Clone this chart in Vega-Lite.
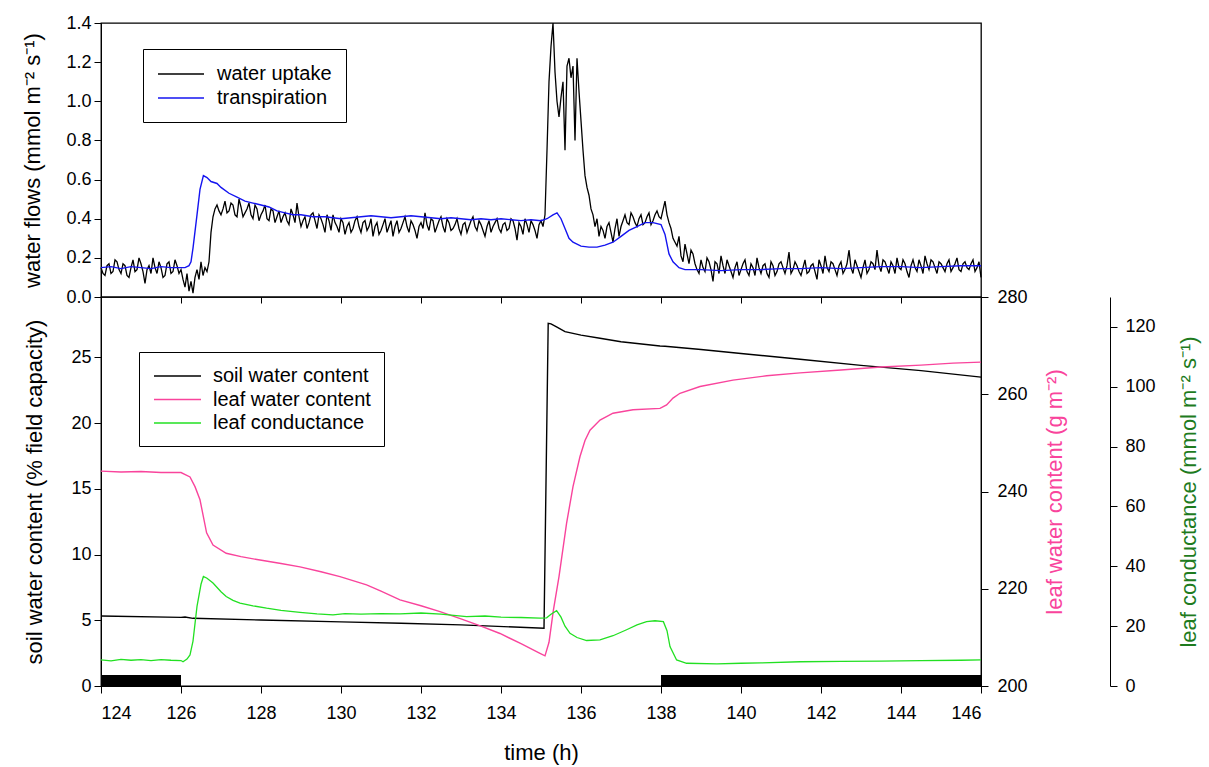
{
  "$schema": "https://vega.github.io/schema/vega-lite/v6.json",
  "padding": {"left": 21, "top": 13, "right": 5, "bottom": 2},
  "config": {
    "font": "Liberation Sans",
    "view": {"stroke": "black", "strokeWidth": 1.3},
    "axis": {"domainColor": "black", "tickColor": "black", "labelColor": "black", "titleColor": "black", "labelFontSize": 18, "titleFontSize": 22, "titleFontWeight": "normal", "tickSize": 7, "grid": false, "labelOverlap": false, "labelFont": "Liberation Sans", "titleFont": "Liberation Sans"},
    "legend": {"labelFont": "Liberation Sans", "labelFontSize": 20, "labelColor": "black"}
  },
  "datasets": {
    "uptake": [
      {"t":124.0,"v":0.15},{"t":124.1,"v":0.11},{"t":124.2,"v":0.17},{"t":124.3,"v":0.13},{"t":124.4,"v":0.18},{"t":124.5,"v":0.12},{"t":124.6,"v":0.16},{"t":124.7,"v":0.10},{"t":124.8,"v":0.19},{"t":124.9,"v":0.14},
      {"t":125.0,"v":0.17},{"t":125.1,"v":0.07},{"t":125.2,"v":0.16},{"t":125.3,"v":0.20},{"t":125.4,"v":0.12},{"t":125.5,"v":0.15},{"t":125.6,"v":0.11},{"t":125.7,"v":0.18},{"t":125.8,"v":0.13},{"t":125.9,"v":0.16},
      {"t":124.05,"v":0.12},{"t":124.15,"v":0.16},{"t":124.25,"v":0.12},{"t":124.35,"v":0.19},{"t":124.45,"v":0.14},{"t":124.55,"v":0.17},{"t":124.65,"v":0.11},{"t":124.75,"v":0.15},{"t":124.85,"v":0.13},{"t":124.95,"v":0.20},
      {"t":125.05,"v":0.13},{"t":125.15,"v":0.14},{"t":125.25,"v":0.12},{"t":125.35,"v":0.15},{"t":125.45,"v":0.18},{"t":125.55,"v":0.10},{"t":125.65,"v":0.17},{"t":125.75,"v":0.12},{"t":125.85,"v":0.19},{"t":125.95,"v":0.12},
      {"t":126.0,"v":0.14},{"t":126.05,"v":0.09},{"t":126.1,"v":0.05},{"t":126.15,"v":0.12},{"t":126.2,"v":0.03},{"t":126.25,"v":0.08},{"t":126.3,"v":0.02},{"t":126.35,"v":0.10},{"t":126.4,"v":0.14},{"t":126.45,"v":0.09},
      {"t":126.5,"v":0.18},{"t":126.55,"v":0.11},{"t":126.6,"v":0.15},{"t":126.65,"v":0.13},{"t":126.7,"v":0.18},{"t":126.75,"v":0.33},{"t":126.8,"v":0.41},{"t":126.85,"v":0.45},{"t":126.9,"v":0.47},{"t":126.95,"v":0.44},{"t":127.0,"v":0.42},
      {"t":127.1,"v":0.49},{"t":127.2,"v":0.44},{"t":127.3,"v":0.47},{"t":127.4,"v":0.41},{"t":127.5,"v":0.46},{"t":127.6,"v":0.43},{"t":127.7,"v":0.48},{"t":127.8,"v":0.40},{"t":127.9,"v":0.45},{"t":128.0,"v":0.42},
      {"t":128.1,"v":0.47},{"t":128.2,"v":0.39},{"t":128.3,"v":0.44},{"t":128.4,"v":0.41},{"t":128.5,"v":0.38},{"t":128.6,"v":0.43},{"t":128.7,"v":0.37},{"t":128.8,"v":0.42},{"t":128.9,"v":0.48},{"t":129.0,"v":0.36},
      {"t":129.1,"v":0.41},{"t":129.2,"v":0.38},{"t":129.3,"v":0.43},{"t":129.4,"v":0.35},{"t":129.5,"v":0.40},{"t":129.6,"v":0.33},{"t":129.7,"v":0.39},{"t":129.8,"v":0.42},{"t":129.9,"v":0.36},{"t":130.0,"v":0.40},
      {"t":130.1,"v":0.32},{"t":130.2,"v":0.38},{"t":130.3,"v":0.35},{"t":130.4,"v":0.41},{"t":130.5,"v":0.33},{"t":130.6,"v":0.39},{"t":130.7,"v":0.36},{"t":130.8,"v":0.31},{"t":130.9,"v":0.38},{"t":131.0,"v":0.34},
      {"t":131.1,"v":0.40},{"t":131.2,"v":0.36},{"t":131.3,"v":0.31},{"t":131.4,"v":0.39},{"t":131.5,"v":0.35},{"t":131.6,"v":0.41},{"t":131.7,"v":0.33},{"t":131.8,"v":0.37},{"t":131.9,"v":0.30},{"t":132.0,"v":0.38},
      {"t":132.1,"v":0.43},{"t":132.2,"v":0.34},{"t":132.3,"v":0.39},{"t":132.4,"v":0.36},{"t":132.5,"v":0.41},{"t":132.6,"v":0.33},{"t":132.7,"v":0.38},{"t":132.8,"v":0.35},{"t":132.9,"v":0.40},{"t":133.0,"v":0.32},
      {"t":133.1,"v":0.38},{"t":133.2,"v":0.36},{"t":133.3,"v":0.41},{"t":133.4,"v":0.34},{"t":133.5,"v":0.37},{"t":133.6,"v":0.31},{"t":133.7,"v":0.39},{"t":133.8,"v":0.36},{"t":133.9,"v":0.40},{"t":134.0,"v":0.33},
      {"t":134.1,"v":0.38},{"t":134.2,"v":0.35},{"t":134.3,"v":0.39},{"t":134.4,"v":0.29},{"t":134.5,"v":0.36},{"t":134.6,"v":0.40},{"t":134.7,"v":0.33},{"t":134.8,"v":0.37},{"t":134.9,"v":0.30},{"t":135.0,"v":0.39},
      {"t":127.05,"v":0.45},{"t":127.15,"v":0.43},{"t":127.25,"v":0.48},{"t":127.35,"v":0.42},{"t":127.45,"v":0.50},{"t":127.55,"v":0.41},{"t":127.65,"v":0.45},{"t":127.75,"v":0.42},{"t":127.85,"v":0.47},{"t":127.95,"v":0.39},
      {"t":128.05,"v":0.44},{"t":128.15,"v":0.40},{"t":128.25,"v":0.45},{"t":128.35,"v":0.38},{"t":128.45,"v":0.44},{"t":128.55,"v":0.41},{"t":128.65,"v":0.39},{"t":128.75,"v":0.45},{"t":128.85,"v":0.38},{"t":128.95,"v":0.41},
      {"t":129.05,"v":0.39},{"t":129.15,"v":0.35},{"t":129.25,"v":0.42},{"t":129.35,"v":0.39},{"t":129.45,"v":0.42},{"t":129.55,"v":0.37},{"t":129.65,"v":0.42},{"t":129.75,"v":0.34},{"t":129.85,"v":0.38},{"t":129.95,"v":0.33},
      {"t":130.05,"v":0.38},{"t":130.15,"v":0.36},{"t":130.25,"v":0.33},{"t":130.35,"v":0.39},{"t":130.45,"v":0.36},{"t":130.55,"v":0.38},{"t":130.65,"v":0.34},{"t":130.75,"v":0.40},{"t":130.85,"v":0.36},{"t":130.95,"v":0.32},
      {"t":131.05,"v":0.37},{"t":131.15,"v":0.33},{"t":131.25,"v":0.39},{"t":131.35,"v":0.36},{"t":131.45,"v":0.33},{"t":131.55,"v":0.38},{"t":131.65,"v":0.36},{"t":131.75,"v":0.39},{"t":131.85,"v":0.34},{"t":131.95,"v":0.36},
      {"t":132.05,"v":0.35},{"t":132.15,"v":0.37},{"t":132.25,"v":0.40},{"t":132.35,"v":0.33},{"t":132.45,"v":0.39},{"t":132.55,"v":0.36},{"t":132.65,"v":0.40},{"t":132.75,"v":0.34},{"t":132.85,"v":0.37},{"t":132.95,"v":0.35},
      {"t":133.05,"v":0.37},{"t":133.15,"v":0.33},{"t":133.25,"v":0.39},{"t":133.35,"v":0.36},{"t":133.45,"v":0.39},{"t":133.55,"v":0.34},{"t":133.65,"v":0.36},{"t":133.75,"v":0.33},{"t":133.85,"v":0.38},{"t":133.95,"v":0.35},
      {"t":134.05,"v":0.37},{"t":134.15,"v":0.34},{"t":134.25,"v":0.40},{"t":134.35,"v":0.35},{"t":134.45,"v":0.38},{"t":134.55,"v":0.32},{"t":134.65,"v":0.37},{"t":134.75,"v":0.39},{"t":134.85,"v":0.34},{"t":134.95,"v":0.37},
      {"t":135.05,"v":0.36},{"t":135.1,"v":0.42},{"t":135.15,"v":0.75},{"t":135.2,"v":1.10},{"t":135.25,"v":1.28},{"t":135.3,"v":1.40},{"t":135.35,"v":1.15},{"t":135.4,"v":1.00},{"t":135.45,"v":0.92},{"t":135.5,"v":1.02},
      {"t":135.55,"v":1.10},{"t":135.6,"v":0.75},{"t":135.65,"v":1.18},{"t":135.7,"v":1.22},{"t":135.75,"v":1.12},{"t":135.8,"v":1.18},{"t":135.85,"v":0.80},{"t":135.9,"v":1.22},{"t":135.95,"v":1.05},{"t":136.0,"v":0.90},
      {"t":136.05,"v":0.75},{"t":136.1,"v":0.62},{"t":136.15,"v":0.56},{"t":136.2,"v":0.52},{"t":136.25,"v":0.45},{"t":136.3,"v":0.42},{"t":136.35,"v":0.36},{"t":136.4,"v":0.40},{"t":136.45,"v":0.31},{"t":136.5,"v":0.36},
      {"t":136.6,"v":0.30},{"t":136.7,"v":0.38},{"t":136.8,"v":0.28},{"t":136.9,"v":0.40},{"t":137.0,"v":0.36},{"t":137.1,"v":0.42},{"t":137.2,"v":0.37},{"t":137.3,"v":0.41},{"t":137.4,"v":0.36},{"t":137.5,"v":0.42},
      {"t":137.6,"v":0.38},{"t":137.7,"v":0.43},{"t":137.8,"v":0.39},{"t":137.9,"v":0.44},{"t":138.0,"v":0.40},{"t":138.1,"v":0.49},{"t":138.15,"v":0.42},{"t":138.2,"v":0.38},{"t":138.3,"v":0.30},{"t":138.4,"v":0.26},
      {"t":136.55,"v":0.34},{"t":136.65,"v":0.36},{"t":136.75,"v":0.33},{"t":136.85,"v":0.35},{"t":136.95,"v":0.31},{"t":137.05,"v":0.39},{"t":137.15,"v":0.38},{"t":137.25,"v":0.43},{"t":137.35,"v":0.38},{"t":137.45,"v":0.40},
      {"t":137.55,"v":0.37},{"t":137.65,"v":0.41},{"t":137.75,"v":0.37},{"t":137.85,"v":0.42},{"t":137.95,"v":0.41},{"t":138.25,"v":0.35},{"t":138.35,"v":0.28},{"t":138.45,"v":0.31},{"t":138.55,"v":0.18},{"t":138.65,"v":0.22},
      {"t":138.5,"v":0.21},{"t":138.6,"v":0.27},{"t":138.7,"v":0.17},{"t":138.8,"v":0.22},{"t":138.9,"v":0.14},{"t":139.0,"v":0.19},{"t":139.1,"v":0.13},{"t":139.2,"v":0.18},{"t":139.3,"v":0.08},{"t":139.4,"v":0.17},
      {"t":139.5,"v":0.21},{"t":139.6,"v":0.12},{"t":139.7,"v":0.16},{"t":139.8,"v":0.10},{"t":139.9,"v":0.18},{"t":140.0,"v":0.14},{"t":140.1,"v":0.19},{"t":140.2,"v":0.11},{"t":140.3,"v":0.15},{"t":140.4,"v":0.20},
      {"t":140.5,"v":0.12},{"t":140.6,"v":0.17},{"t":140.7,"v":0.10},{"t":140.8,"v":0.16},{"t":140.9,"v":0.13},{"t":141.0,"v":0.18},{"t":141.1,"v":0.12},{"t":141.2,"v":0.23},{"t":141.3,"v":0.14},{"t":141.4,"v":0.16},
      {"t":141.5,"v":0.11},{"t":141.6,"v":0.19},{"t":141.7,"v":0.13},{"t":141.8,"v":0.17},{"t":141.9,"v":0.09},{"t":142.0,"v":0.16},{"t":142.1,"v":0.21},{"t":142.2,"v":0.13},{"t":142.3,"v":0.17},{"t":142.4,"v":0.11},
      {"t":142.5,"v":0.18},{"t":142.6,"v":0.14},{"t":142.7,"v":0.24},{"t":142.8,"v":0.12},{"t":142.9,"v":0.16},{"t":143.0,"v":0.10},{"t":143.1,"v":0.19},{"t":143.2,"v":0.14},{"t":143.3,"v":0.17},{"t":143.4,"v":0.24},
      {"t":143.5,"v":0.13},{"t":143.6,"v":0.18},{"t":143.7,"v":0.12},{"t":143.8,"v":0.16},{"t":143.9,"v":0.20},{"t":144.0,"v":0.14},{"t":144.1,"v":0.17},{"t":144.2,"v":0.10},{"t":144.3,"v":0.19},{"t":144.4,"v":0.13},
      {"t":144.5,"v":0.16},{"t":144.6,"v":0.21},{"t":144.7,"v":0.14},{"t":144.8,"v":0.18},{"t":144.9,"v":0.12},{"t":145.0,"v":0.17},{"t":145.1,"v":0.13},{"t":145.2,"v":0.19},{"t":145.3,"v":0.15},{"t":145.4,"v":0.20},
      {"t":145.5,"v":0.13},{"t":145.6,"v":0.18},{"t":145.7,"v":0.14},{"t":145.8,"v":0.19},{"t":145.9,"v":0.15},{"t":146.0,"v":0.10},
      {"t":138.75,"v":0.24},{"t":138.85,"v":0.17},{"t":138.95,"v":0.12},
      {"t":139.05,"v":0.15},{"t":139.15,"v":0.20},{"t":139.25,"v":0.14},{"t":139.35,"v":0.18},{"t":139.45,"v":0.12},{"t":139.55,"v":0.16},{"t":139.65,"v":0.19},{"t":139.75,"v":0.13},{"t":139.85,"v":0.15},{"t":139.95,"v":0.11},
      {"t":140.05,"v":0.17},{"t":140.15,"v":0.13},{"t":140.25,"v":0.17},{"t":140.35,"v":0.11},{"t":140.45,"v":0.15},{"t":140.55,"v":0.16},{"t":140.65,"v":0.12},{"t":140.75,"v":0.18},{"t":140.85,"v":0.11},{"t":140.95,"v":0.17},
      {"t":141.05,"v":0.15},{"t":141.15,"v":0.16},{"t":141.25,"v":0.12},{"t":141.35,"v":0.18},{"t":141.45,"v":0.13},{"t":141.55,"v":0.15},{"t":141.65,"v":0.12},{"t":141.75,"v":0.16},{"t":141.85,"v":0.13},{"t":141.95,"v":0.19},
      {"t":142.05,"v":0.12},{"t":142.15,"v":0.15},{"t":142.25,"v":0.18},{"t":142.35,"v":0.14},{"t":142.45,"v":0.16},{"t":142.55,"v":0.12},{"t":142.65,"v":0.17},{"t":142.75,"v":0.15},{"t":142.85,"v":0.19},{"t":142.95,"v":0.13},
      {"t":143.05,"v":0.15},{"t":143.15,"v":0.12},{"t":143.25,"v":0.18},{"t":143.35,"v":0.14},{"t":143.45,"v":0.16},{"t":143.55,"v":0.19},{"t":143.65,"v":0.15},{"t":143.75,"v":0.18},{"t":143.85,"v":0.12},{"t":143.95,"v":0.15},
      {"t":144.05,"v":0.19},{"t":144.15,"v":0.13},{"t":144.25,"v":0.16},{"t":144.35,"v":0.15},{"t":144.45,"v":0.19},{"t":144.55,"v":0.12},{"t":144.65,"v":0.17},{"t":144.75,"v":0.19},{"t":144.85,"v":0.15},{"t":144.95,"v":0.18},
      {"t":145.05,"v":0.15},{"t":145.15,"v":0.17},{"t":145.25,"v":0.13},{"t":145.35,"v":0.17},{"t":145.45,"v":0.14},{"t":145.55,"v":0.17},{"t":145.65,"v":0.15},{"t":145.75,"v":0.17},{"t":145.85,"v":0.13},{"t":145.95,"v":0.18}
    ],
    "transp": [
      {"t":124.0,"v":0.15},{"t":124.25,"v":0.155},{"t":124.5,"v":0.145},{"t":124.75,"v":0.155},{"t":125.0,"v":0.15},{"t":125.25,"v":0.145},{"t":125.5,"v":0.155},{"t":125.75,"v":0.15},{"t":126.0,"v":0.15},{"t":126.1,"v":0.15},{"t":126.2,"v":0.16},{"t":126.25,"v":0.18},{"t":126.3,"v":0.25},{"t":126.4,"v":0.42},
      {"t":126.475,"v":0.55},{"t":126.56,"v":0.62},{"t":126.65,"v":0.61},{"t":126.75,"v":0.59},{"t":126.9,"v":0.58},{"t":127.0,"v":0.56},{"t":127.2,"v":0.53},{"t":127.4,"v":0.51},{"t":127.6,"v":0.49},{"t":127.8,"v":0.48},
      {"t":128.0,"v":0.47},{"t":128.2,"v":0.46},{"t":128.4,"v":0.44},{"t":128.6,"v":0.43},{"t":128.8,"v":0.42},{"t":129.0,"v":0.42},{"t":129.3,"v":0.41},{"t":129.6,"v":0.41},{"t":130.0,"v":0.40},{"t":130.25,"v":0.405},{"t":130.5,"v":0.41},
      {"t":130.75,"v":0.415},{"t":131.0,"v":0.41},{"t":131.25,"v":0.405},{"t":131.5,"v":0.41},{"t":131.75,"v":0.415},{"t":132.0,"v":0.41},{"t":132.25,"v":0.405},{"t":132.5,"v":0.40},{"t":132.75,"v":0.405},{"t":133.0,"v":0.40},{"t":133.25,"v":0.395},{"t":133.5,"v":0.40},{"t":133.75,"v":0.395},{"t":134.0,"v":0.40},{"t":134.25,"v":0.395},{"t":134.5,"v":0.39},{"t":134.75,"v":0.395},{"t":135.0,"v":0.39},{"t":135.15,"v":0.40},
      {"t":135.3,"v":0.42},{"t":135.4,"v":0.43},{"t":135.5,"v":0.40},{"t":135.6,"v":0.35},{"t":135.7,"v":0.30},{"t":135.8,"v":0.28},{"t":136.0,"v":0.26},{"t":136.2,"v":0.255},{"t":136.4,"v":0.255},{"t":136.6,"v":0.265},
      {"t":136.8,"v":0.28},{"t":137.0,"v":0.31},{"t":137.2,"v":0.34},{"t":137.4,"v":0.36},{"t":137.6,"v":0.38},{"t":137.8,"v":0.38},{"t":138.0,"v":0.37},{"t":138.1,"v":0.32},{"t":138.2,"v":0.22},{"t":138.3,"v":0.18},
      {"t":138.45,"v":0.15},{"t":138.6,"v":0.14},{"t":139.0,"v":0.14},{"t":139.5,"v":0.135},{"t":140.0,"v":0.14},{"t":140.5,"v":0.14},{"t":141.0,"v":0.145},{"t":141.5,"v":0.145},{"t":142.0,"v":0.15},{"t":142.5,"v":0.145},{"t":143.0,"v":0.15},{"t":143.5,"v":0.155},{"t":144.0,"v":0.155},{"t":144.5,"v":0.15},{"t":145.0,"v":0.155},{"t":145.5,"v":0.16},{"t":146.0,"v":0.16}
    ],
    "soil": [
      {"t":124.0,"v":5.33},{"t":126.0,"v":5.22},{"t":126.1,"v":5.25},{"t":126.3,"v":5.15},{"t":128.0,"v":5.02},{"t":130.0,"v":4.88},{"t":131.5,"v":4.77},{"t":133.0,"v":4.65},{"t":135.075,"v":4.40},
      {"t":135.18,"v":27.6},{"t":135.25,"v":27.55},{"t":135.4,"v":27.3},{"t":135.6,"v":26.96},{"t":136.0,"v":26.7},{"t":136.475,"v":26.46},{"t":137.0,"v":26.2},{"t":137.975,"v":25.87},{"t":138.1,"v":25.85},
      {"t":139.0,"v":25.6},{"t":140.0,"v":25.3},{"t":141.475,"v":24.86},{"t":143.0,"v":24.4},{"t":144.5,"v":24.0},{"t":146.0,"v":23.5}
    ],
    "leaf": [
      {"t":124.0,"v":244.2},{"t":124.5,"v":244.0},{"t":125.0,"v":244.1},{"t":125.5,"v":243.9},{"t":126.0,"v":243.9},{"t":126.225,"v":243.0},{"t":126.35,"v":241.0},{"t":126.475,"v":238.3},{"t":126.64,"v":231.5},{"t":126.8,"v":229.0},
      {"t":127.13,"v":227.3},{"t":127.5,"v":226.6},{"t":127.975,"v":225.9},{"t":128.5,"v":225.2},{"t":128.975,"v":224.5},{"t":129.5,"v":223.5},{"t":129.975,"v":222.5},{"t":130.64,"v":220.8},{"t":131.0,"v":219.5},{"t":131.475,"v":217.7},
      {"t":132.0,"v":216.5},{"t":132.475,"v":215.3},{"t":133.0,"v":213.8},{"t":133.5,"v":212.3},{"t":133.975,"v":210.8},{"t":134.5,"v":208.7},{"t":134.975,"v":206.7},{"t":135.1,"v":206.2},{"t":135.2,"v":209.0},{"t":135.31,"v":215.6},
      {"t":135.45,"v":222.5},{"t":135.64,"v":233.5},{"t":135.8,"v":241.0},{"t":135.975,"v":247.2},{"t":136.1,"v":250.5},{"t":136.225,"v":252.6},{"t":136.475,"v":254.7},{"t":136.8,"v":256.1},{"t":137.3,"v":256.8},{"t":137.975,"v":257.1},
      {"t":138.14,"v":257.8},{"t":138.3,"v":259.2},{"t":138.475,"v":260.2},{"t":138.975,"v":261.6},{"t":139.8,"v":262.9},{"t":140.64,"v":263.8},{"t":141.475,"v":264.4},{"t":142.5,"v":265.0},{"t":143.5,"v":265.6},{"t":144.5,"v":266.0},
      {"t":145.3,"v":266.4},{"t":146.0,"v":266.6}
    ],
    "cond": [
      {"t":124.0,"v":8.7},{"t":124.25,"v":8.4},{"t":124.5,"v":8.9},{"t":124.75,"v":8.6},{"t":125.0,"v":8.8},{"t":125.25,"v":8.5},{"t":125.5,"v":8.8},{"t":125.75,"v":8.6},{"t":126.0,"v":8.5},{"t":126.05,"v":8.1},
      {"t":126.15,"v":9.0},{"t":126.225,"v":10.4},{"t":126.3,"v":15.0},{"t":126.4,"v":26.6},{"t":126.5,"v":34.0},{"t":126.56,"v":36.6},{"t":126.65,"v":36.0},{"t":126.8,"v":34.4},{"t":127.0,"v":31.5},{"t":127.13,"v":29.9},
      {"t":127.3,"v":28.6},{"t":127.475,"v":27.7},{"t":127.8,"v":26.8},{"t":128.14,"v":26.0},{"t":128.5,"v":25.3},{"t":128.975,"v":24.6},{"t":129.4,"v":24.1},{"t":129.8,"v":23.8},{"t":130.1,"v":24.2},{"t":130.5,"v":24.0},
      {"t":131.0,"v":24.2},{"t":131.475,"v":24.1},{"t":132.0,"v":24.4},{"t":132.5,"v":24.0},{"t":133.14,"v":23.2},{"t":133.6,"v":23.4},{"t":134.0,"v":23.0},{"t":134.5,"v":22.9},{"t":134.975,"v":22.7},{"t":135.14,"v":22.8},
      {"t":135.25,"v":24.0},{"t":135.39,"v":25.2},{"t":135.5,"v":23.0},{"t":135.6,"v":20.0},{"t":135.725,"v":17.6},{"t":135.9,"v":16.2},{"t":136.14,"v":15.2},{"t":136.475,"v":15.4},{"t":136.8,"v":16.8},{"t":137.14,"v":18.8},
      {"t":137.4,"v":20.4},{"t":137.64,"v":21.5},{"t":137.85,"v":21.8},{"t":138.06,"v":21.5},{"t":138.15,"v":18.5},{"t":138.225,"v":13.2},{"t":138.39,"v":8.7},{"t":138.64,"v":7.6},{"t":139.4,"v":7.4},{"t":140.0,"v":7.6},
      {"t":140.5,"v":7.7},{"t":141.475,"v":8.1},{"t":142.5,"v":8.2},{"t":143.5,"v":8.3},{"t":144.5,"v":8.5},{"t":145.5,"v":8.6},{"t":146.0,"v":8.7}
    ],
    "night": [{"a":124,"b":126},{"a":138,"b":146}]
  },
  "vconcat": [
    {
      "width": 880,
      "height": 274,
      "layer": [
        {
          "data": {"name": "uptake"},
          "mark": {"type": "line", "strokeWidth": 1.3},
          "encoding": {
            "x": {"field": "t", "type": "quantitative", "scale": {"domain": [124, 146], "nice": false}, "axis": {"values": [124,126,128,130,132,134,136,138,140,142,144,146], "tickCount": 30, "labels": false, "title": null, "domain": false, "tickSize": 6}},
            "y": {"field": "v", "type": "quantitative", "scale": {"domain": [0, 1.4], "nice": false}, "axis": {"values": [0,0.2,0.4,0.6,0.8,1.0,1.2,1.4], "tickCount": 20, "format": ".1f", "labelOverlap": false, "title": "water flows (mmol m⁻² s⁻¹)", "labelPadding": 3, "titlePadding": 21}},
            "color": {"datum": "water uptake", "type": "nominal", "scale": {"domain": ["water uptake", "transpiration"], "range": ["black", "#1414f0"]},
              "legend": {"orient": "none", "legendX": 42, "legendY": 26, "title": null, "strokeColor": "black", "padding": 14, "symbolType": "M-1,0H3.6", "symbolSize": 400, "symbolStrokeWidth": 1.5, "labelOffset": 38, "rowPadding": 3}}
          }
        },
        {
          "data": {"name": "transp"},
          "mark": {"type": "line", "strokeWidth": 1.4},
          "encoding": {
            "x": {"field": "t", "type": "quantitative"},
            "y": {"field": "v", "type": "quantitative"},
            "color": {"datum": "transpiration", "type": "nominal"}
          }
        }
      ]
    },
    {
      "width": 880,
      "height": 389,
      "resolve": {"scale": {"y": "independent"}},
      "layer": [
        {
          "layer": [
            {
              "data": {"name": "night"},
              "mark": {"type": "rect", "color": "black"},
              "encoding": {
                "x": {"field": "a", "type": "quantitative", "scale": {"domain": [124, 146], "nice": false}, "title": "time (h)", "axis": {"values": [124,126,128,130,132,134,136,138,140,142,144,146], "tickCount": 30, "labelOverlap": false, "labelPadding": 11, "titlePadding": 20}},
                "x2": {"field": "b"},
                "y": {"datum": 0, "type": "quantitative", "scale": {"domain": [0, 29.6], "nice": false}},
                "y2": {"datum": 0.84}
              }
            },
            {
              "data": {"name": "soil"},
              "mark": {"type": "line", "strokeWidth": 1.4},
              "encoding": {
                "x": {"field": "t", "type": "quantitative", "title": "time (h)"},
                "y": {"field": "v", "type": "quantitative", "scale": {"domain": [0, 29.6], "nice": false}, "axis": {"orient": "left", "values": [0,5,10,15,20,25], "tickCount": 20, "labelOverlap": false, "title": "soil water content (% field capacity)", "labelPadding": 3, "titlePadding": 24}},
                "color": {"datum": "soil water content", "type": "nominal", "scale": {"domain": ["soil water content", "leaf water content", "leaf conductance"], "range": ["black", "#f9449c", "#22e022"]},
                  "legend": {"orient": "none", "legendX": 38, "legendY": 55, "title": null, "strokeColor": "black", "padding": 13, "symbolType": "M-0.9,0H3.8", "symbolSize": 400, "symbolStrokeWidth": 1.5, "labelOffset": 39, "rowPadding": 2.5}}
              }
            }
          ]
        },
        {
          "data": {"name": "leaf"},
          "mark": {"type": "line", "strokeWidth": 1.4},
          "encoding": {
            "x": {"field": "t", "type": "quantitative"},
            "y": {"field": "v", "type": "quantitative", "scale": {"domain": [200, 280], "nice": false}, "axis": {"orient": "right", "values": [200,220,240,260,280], "tickCount": 20, "labelOverlap": false, "title": "leaf water content (g m⁻²)", "titleColor": "#f9449c", "titleAngle": 270, "titleBaseline": "top", "labelPadding": 9, "titlePadding": 17}},
            "color": {"datum": "leaf water content", "type": "nominal"}
          }
        },
        {
          "data": {"name": "cond"},
          "mark": {"type": "line", "strokeWidth": 1.3},
          "encoding": {
            "x": {"field": "t", "type": "quantitative"},
            "y": {"field": "v", "type": "quantitative", "scale": {"domain": [0, 130], "nice": false}, "axis": {"orient": "right", "offset": 129, "values": [0,20,40,60,80,100,120], "tickCount": 20, "labelOverlap": false, "title": "leaf conductance (mmol m⁻² s⁻¹)", "titleColor": "#1e7b1e", "titleAngle": 270, "titleBaseline": "top", "labelPadding": 8, "titlePadding": 23}},
            "color": {"datum": "leaf conductance", "type": "nominal"}
          }
        }
      ]
    }
  ],
  "spacing": 0,
  "bounds": "flush",
  "resolve": {"scale": {"color": "independent"}, "legend": {"color": "independent"}}
}
